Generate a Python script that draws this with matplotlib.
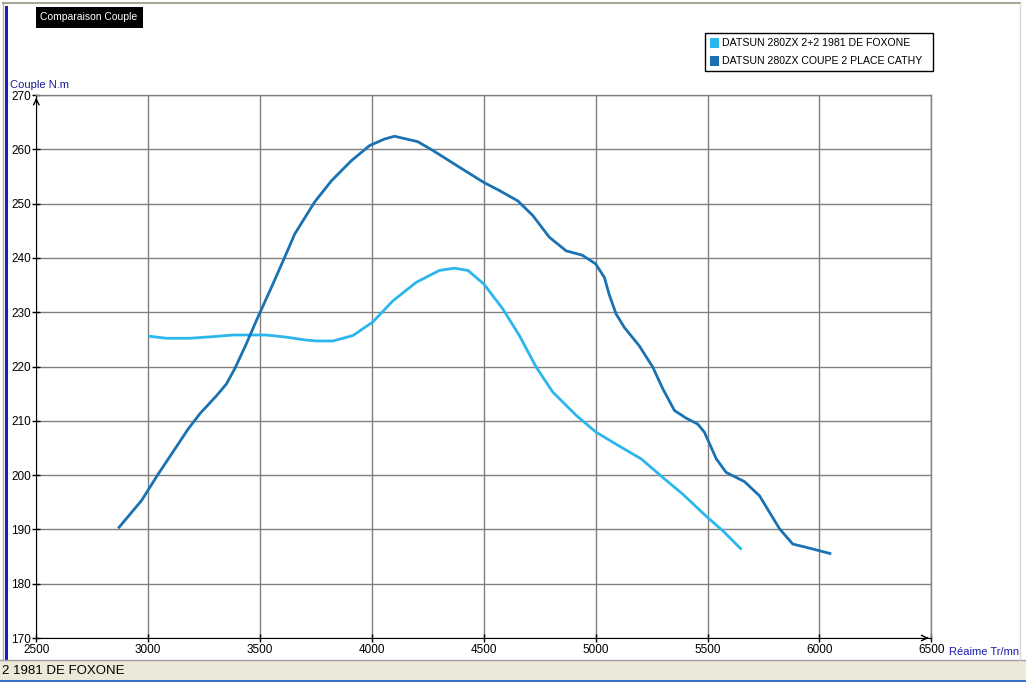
import matplotlib
matplotlib.use("Agg")
import matplotlib.pyplot as plt
from matplotlib.patches import Rectangle
from matplotlib.lines import Line2D

# ---- data ----
rpm_foxone = [3000, 3082, 3186, 3290, 3380, 3528, 3618, 3700, 3752, 3826, 3915, 4004,
              4094, 4198, 4302, 4369, 4429, 4500, 4585, 4659, 4734, 4808, 4913,
              5002, 5091, 5203, 5299, 5389, 5500, 5567, 5652]
torque_foxone = [225.6, 225.2, 225.2, 225.5, 225.8, 225.8, 225.4, 224.9, 224.7, 224.7, 225.7, 228.2,
                 232.1, 235.5, 237.7, 238.1, 237.7, 235.2, 230.6, 225.7, 219.9, 215.3, 211.0,
                 207.9, 205.7, 203.0, 199.6, 196.5, 192.2, 189.8, 186.3]

rpm_cathy = [2866, 2970, 3045, 3179, 3231, 3305, 3350, 3387, 3439, 3484, 3551, 3610,
             3655, 3744, 3819, 3908, 3990, 4057, 4101, 4205, 4272, 4391, 4500, 4570,
             4652, 4719, 4793, 4868, 4940, 5000, 5039, 5060, 5091, 5128, 5195, 5255, 5300,
             5352, 5404, 5456, 5486, 5539, 5583, 5665, 5732, 5822, 5881, 5941, 6053]
torque_cathy = [190.2, 195.3, 200.2, 208.5, 211.3, 214.6, 216.8, 219.6, 224.2, 228.5, 234.6, 240.1,
                244.4, 250.3, 254.2, 257.9, 260.7, 261.9, 262.4, 261.4, 259.8, 256.7, 253.9, 252.4,
                250.5, 247.8, 243.8, 241.3, 240.5, 238.9, 236.4, 233.3, 229.7, 227.2, 223.8, 219.9, 215.9,
                211.9, 210.5, 209.4, 207.9, 203.0, 200.5, 198.8, 196.2, 190.1, 187.3, 186.7, 185.5]

series_names = ["DATSUN 280ZX 2+2 1981 DE FOXONE", "DATSUN 280ZX COUPE 2 PLACE CATHY"]
series_colors = ["#2BB6EC", "#1A72B2"]
x_ticks = [2500, 3000, 3500, 4000, 4500, 5000, 5500, 6000, 6500]
y_ticks = [170, 180, 190, 200, 210, 220, 230, 240, 250, 260, 270]

plt.rcParams['font.family'] = ['Liberation Sans', 'DejaVu Sans']

W, H = 1026, 682
fig = plt.figure(figsize=(W / 100, H / 100), dpi=100)
fig.patch.set_facecolor("white")


def fx(px):
    return px / W


def fy(py):
    return 1 - py / H


# window chrome
fig.add_artist(Rectangle((0, 0), 1, fy(660), transform=fig.transFigure,
                         facecolor="#ECE9D8", edgecolor="none", zorder=0))
fig.add_artist(Line2D([0, 1], [fy(660), fy(660)], transform=fig.transFigure,
                      color="#A0A0A0", lw=1))
fig.add_artist(Rectangle((0, 0), 1, fy(680), transform=fig.transFigure,
                         facecolor="#3A6EC8", edgecolor="none", zorder=1))
fig.add_artist(Rectangle((fx(5), fy(660)), fx(3), fy(6) - fy(660), transform=fig.transFigure,
                         facecolor="#1A1AD0", edgecolor="none", zorder=1))
fig.add_artist(Line2D([fx(2.5), fx(2.5)], [fy(660), fy(2)], transform=fig.transFigure,
                      color="#B0B0A8", lw=1))
fig.add_artist(Line2D([fx(2.5), fx(1020)], [fy(2.5), fy(2.5)], transform=fig.transFigure,
                      color="#A8A898", lw=1.5))
fig.add_artist(Line2D([fx(1020), fx(1020)], [fy(660), fy(2.5)], transform=fig.transFigure,
                      color="#D8D8D8", lw=1))
fig.text(fx(2), fy(671), "2 1981 DE FOXONE", fontsize=9.5, color="black",
         ha="left", va="center")

# title box
fig.add_artist(Rectangle((fx(36), fy(28)), fx(107), fy(7) - fy(28), transform=fig.transFigure,
                         facecolor="black", edgecolor="none"))
fig.text(fx(40), fy(17.5), "Comparaison Couple", fontsize=7.5, color="white",
         ha="left", va="center")

# axes
left, right, top, bottom = 36.3, 931.3, 95, 638
ax = fig.add_axes([fx(left), fy(bottom), fx(right - left), fy(top) - fy(bottom)])
ax.set_xlim(2500, 6500)
ax.set_ylim(170, 270)
ax.set_xticks(x_ticks)
ax.set_yticks(y_ticks)
ax.grid(True, color="#808080", lw=1)
ax.set_axisbelow(True)
for s in ["top", "right"]:
    ax.spines[s].set_color("#808080")
    ax.spines[s].set_linewidth(1)
ax.spines["left"].set_color("black")
ax.spines["bottom"].set_color("black")
ax.tick_params(axis="both", direction="inout", length=6, width=1, labelsize=8.5, colors="black", pad=1)

ax.plot(rpm_foxone, torque_foxone, color=series_colors[0], lw=2.0, solid_capstyle="butt",
        solid_joinstyle="round", label=series_names[0], zorder=3)
ax.plot(rpm_cathy, torque_cathy, color=series_colors[1], lw=2.0, solid_capstyle="butt",
        solid_joinstyle="round", label=series_names[1], zorder=3)

# arrow heads on axes
ax.annotate("", xy=(2500, 270), xytext=(2500, 268.5),
            arrowprops=dict(arrowstyle="->", color="black", lw=1), annotation_clip=False)
ax.annotate("", xy=(6500, 170), xytext=(6470, 170),
            arrowprops=dict(arrowstyle="->", color="black", lw=1), annotation_clip=False)

fig.text(fx(9.5), fy(85), "Couple N.m", fontsize=8, color="#1A1A99", ha="left", va="center")
fig.text(fx(949), fy(652), "Réaime Tr/mn", fontsize=8, color="#1A1AB0", ha="left", va="center")

# legend
lx0, ly0, lx1, ly1 = 705, 33, 933, 71
fig.add_artist(Rectangle((fx(lx0), fy(ly1)), fx(lx1 - lx0), fy(ly0) - fy(ly1),
                         transform=fig.transFigure, facecolor="white", edgecolor="black", lw=1,
                         zorder=5))
for i, (name, col) in enumerate(zip(series_names, series_colors)):
    yc = 43 + i * 18
    fig.add_artist(Rectangle((fx(710), fy(yc + 5)), fx(9), fy(yc - 5) - fy(yc + 5),
                             transform=fig.transFigure, facecolor=col, edgecolor="none", zorder=6))
    fig.text(fx(722), fy(yc), name, fontsize=7.6, color="black", ha="left", va="center", zorder=6)

fig.savefig("out.png", dpi=100)
